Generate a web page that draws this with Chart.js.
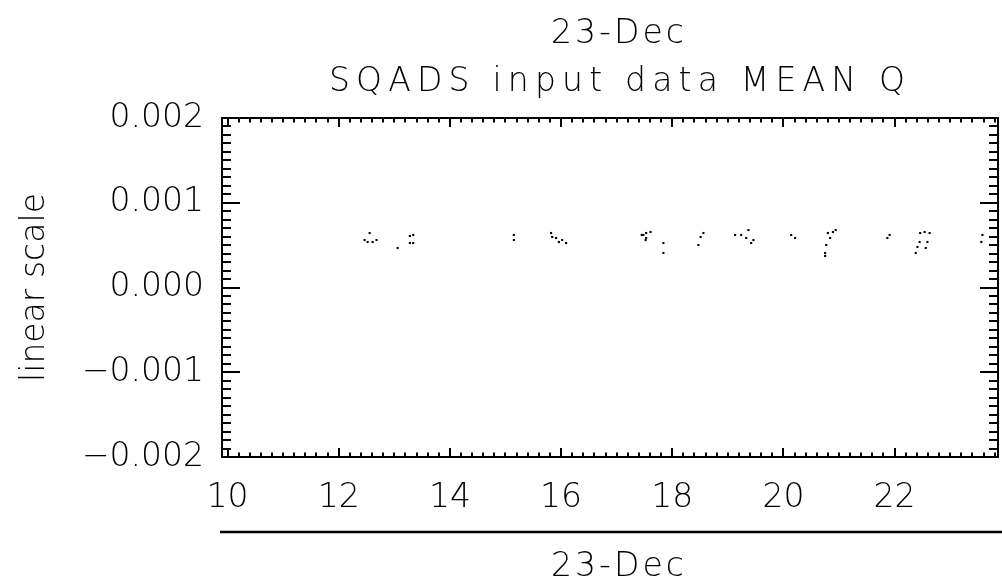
<!DOCTYPE html>
<html><head><meta charset="utf-8">
<script src="https://cdn.jsdelivr.net/npm/chart.js@4/dist/chart.umd.min.js"></script>
<style>html,body{margin:0;padding:0;background:#fff;overflow:hidden}#wrap{width:1002px;height:587px;position:relative}canvas{display:block}</style>
</head><body><div id="wrap"><canvas id="c" width="1002" height="587"></canvas></div>
<script>
const topLabel = "23-Dec";
const chartTitle = "SQADS input data MEAN Q";
const yAxisTitle = "linear scale";
const xAxisTitle = "23-Dec";
const xTickValues = [10, 12, 14, 16, 18, 20, 22];
const xTickLabels = ["10", "12", "14", "16", "18", "20", "22"];
const yTickValues = [-0.002, -0.001, 0, 0.001, 0.002];
const yTickLabels = ["\u22120.002", "\u22120.001", "0.000", "0.001", "0.002"];

const hours = [12.556, 12.466, 12.52, 12.61, 12.68, 13.06, 13.28, 13.34, 13.28, 13.34,
  15.15, 15.15, 15.82, 15.84, 15.91, 15.96, 16.02, 16.09,
  17.45, 17.48, 17.53, 17.53, 17.61, 17.52, 17.84, 17.84,
  18.56, 18.51, 18.47, 19.13, 19.24, 19.33, 19.37, 19.42, 19.46,
  20.14, 20.21, 20.80, 20.89, 20.94, 20.84, 20.77, 20.75, 20.75,
  21.87, 21.91, 22.46, 22.54, 22.63, 22.45, 22.41, 22.38, 22.59, 22.56,
  23.58, 23.56];
const meanQ = [0.000643, 0.000560, 0.000537, 0.000537, 0.000560, 0.000466, 0.000608, 0.000620, 0.000525, 0.000525,
  0.000620, 0.000560, 0.000643, 0.000596, 0.000584, 0.000537, 0.000560, 0.000525,
  0.000620, 0.000620, 0.000584, 0.000643, 0.000655, 0.000560, 0.000525, 0.000407,
  0.000643, 0.000596, 0.000501, 0.000620, 0.000620, 0.000584, 0.000678, 0.000525, 0.000560,
  0.000620, 0.000584, 0.000643, 0.000655, 0.000678, 0.000584, 0.000501, 0.000407, 0.000372,
  0.000584, 0.000620, 0.000643, 0.000655, 0.000643, 0.000537, 0.000478, 0.000407, 0.000537, 0.000466,
  0.000620, 0.000537];

const xMin = 9.9, xMax = 23.86;
const yMin = -0.002, yMax = 0.002;
const FONT = '"DejaVu Sans", sans-serif';
const WEIGHT = 200;

const points = hours.map((h, i) => ({x: h, y: meanQ[i]}));

const idlFrame = {
  id: 'idlFrame',
  afterDraw(chart) {
    const ctx = chart.ctx, a = chart.chartArea;
    const xs = chart.scales.x, ys = chart.scales.y;
    ctx.save();
    ctx.strokeStyle = '#000';
    ctx.lineWidth = 2;
    ctx.strokeRect(a.left, a.top, a.right - a.left, a.bottom - a.top);
    ctx.beginPath();
    for (let k = Math.ceil(xMin / 0.2); k * 0.2 <= xMax + 1e-9; k++) {
      const v = k * 0.2;
      const major = Math.abs(v / 2 - Math.round(v / 2)) < 1e-6;
      const len = major ? 9 : 4.5;
      const px = Math.round(xs.getPixelForValue(v));
      ctx.moveTo(px, a.bottom); ctx.lineTo(px, a.bottom - len);
      ctx.moveTo(px, a.top); ctx.lineTo(px, a.top + len);
    }
    for (let k = -20; k <= 20; k++) {
      const v = k * 0.0001;
      const major = k % 10 === 0;
      const len = major ? 18 : 9;
      const py = Math.round(ys.getPixelForValue(v));
      ctx.moveTo(a.left, py); ctx.lineTo(a.left + len, py);
      ctx.moveTo(a.right, py); ctx.lineTo(a.right - len, py);
    }
    ctx.lineWidth = 2;
    ctx.stroke();

    ctx.fillStyle = '#000';
    ctx.textAlign = 'center';
    ctx.textBaseline = 'middle';
    ctx.font = WEIGHT + ' 33px ' + FONT;
    ctx.letterSpacing = '3px';
    ctx.fillText(topLabel, 619, 34);
    ctx.letterSpacing = '6.2px';
    ctx.fillText(chartTitle, 620, 82);
    ctx.letterSpacing = '0px';
    ctx.lineWidth = 2.5;
    ctx.beginPath();
    ctx.moveTo(220, 532); ctx.lineTo(1002, 532);
    ctx.stroke();
    ctx.letterSpacing = '3px';
    ctx.fillText(xAxisTitle, 619, 567);
    ctx.restore();
  }
};

new Chart(document.getElementById('c'), {
  type: 'scatter',
  data: {
    datasets: [{
      data: points,
      backgroundColor: '#000',
      borderColor: '#000',
      borderWidth: 0,
      pointRadius: 1.5,
      pointStyle: 'rect',
      showLine: false
    }]
  },
  options: {
    responsive: false,
    animation: false,
    devicePixelRatio: 1,
    layout: {padding: {top: 118, right: 1, left: 0, bottom: 0}},
    plugins: {legend: {display: false}, tooltip: {enabled: false}, title: {display: false}},
    scales: {
      x: {
        type: 'linear', min: xMin, max: xMax,
        grid: {display: false, drawTicks: false},
        border: {display: false},
        afterBuildTicks: s => { s.ticks = xTickValues.map(v => ({value: v})); },
        afterFit: s => { s.height = 130; },
        ticks: {
          padding: 22,
          color: '#000',
          font: {family: FONT, size: 33, weight: WEIGHT},
          maxRotation: 0,
          callback: (v) => xTickLabels[xTickValues.indexOf(v)] ?? ''
        }
      },
      y: {
        type: 'linear', min: yMin, max: yMax,
        grid: {display: false, drawTicks: false},
        border: {display: false},
        afterBuildTicks: s => { s.ticks = yTickValues.map(v => ({value: v})); },
        afterFit: s => { s.width = 222; },
        ticks: {
          padding: 18,
          color: '#000',
          font: {family: FONT, size: 33, weight: WEIGHT},
          callback: (v) => {
            const i = yTickValues.findIndex(t => Math.abs(t - v) < 1e-9);
            return i >= 0 ? yTickLabels[i] : '';
          }
        },
        title: {
          display: true,
          text: yAxisTitle,
          color: '#000',
          font: {family: FONT, size: 33, weight: WEIGHT},
          padding: {top: 16, bottom: 0}
        }
      }
    }
  },
  plugins: [idlFrame]
});
</script>
</body></html>
